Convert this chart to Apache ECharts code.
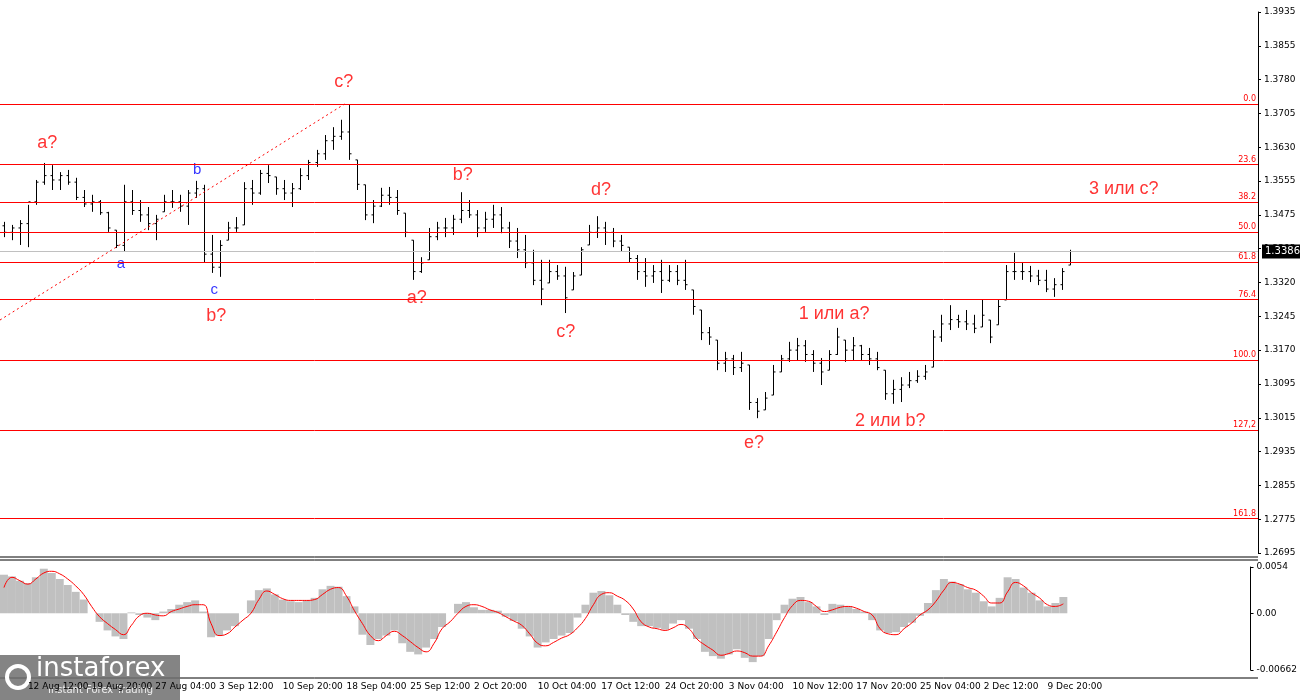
<!DOCTYPE html>
<html><head><meta charset="utf-8">
<script src="https://cdn.jsdelivr.net/npm/echarts@6/dist/echarts.min.js"></script>
<style>html,body{margin:0;padding:0;background:#fff}#c{width:1300px;height:700px}</style>
</head><body><div id="c"></div>
<script>
const highs=[1.3454,1.3447,1.3458,1.3493,1.3550,1.3589,1.3584,1.3568,1.3573,1.3555,1.3527,1.3516,1.3504,1.3477,1.3435,1.3539,1.3527,1.3504,1.3488,1.3470,1.3516,1.3527,1.3516,1.3527,1.3548,1.3539,1.3424,1.3412,1.3454,1.3465,1.3545,1.3550,1.3573,1.3584,1.3557,1.3550,1.3543,1.3577,1.3596,1.3619,1.3653,1.3671,1.3688,1.3722,1.3596,1.3539,1.3504,1.3532,1.3534,1.3527,1.3474,1.3412,1.3373,1.3440,1.3454,1.3463,1.3470,1.3522,1.3504,1.3481,1.3477,1.3493,1.3488,1.3454,1.3440,1.3424,1.3390,1.3367,1.3367,1.3355,1.3351,1.3339,1.3396,1.3447,1.3467,1.3454,1.3440,1.3424,1.3396,1.3378,1.3371,1.3355,1.3367,1.3355,1.3355,1.3367,1.3298,1.3252,1.3213,1.3183,1.3156,1.3149,1.3156,1.3126,1.3050,1.3064,1.3126,1.3149,1.3179,1.3188,1.3183,1.3160,1.3142,1.3160,1.3211,1.3183,1.3190,1.3172,1.3165,1.3156,1.3114,1.3092,1.3098,1.3110,1.3114,1.3126,1.3206,1.3241,1.3263,1.3241,1.3252,1.3241,1.3275,1.3229,1.3275,1.3355,1.3383,1.3362,1.3353,1.3344,1.3344,1.3325,1.3348,1.3390];
const lows=[1.3419,1.3412,1.3401,1.3396,1.3493,1.3539,1.3527,1.3527,1.3539,1.3504,1.3488,1.3477,1.3470,1.3431,1.3394,1.3385,1.3470,1.3454,1.3435,1.3412,1.3477,1.3486,1.3477,1.3447,1.3509,1.3362,1.3337,1.3328,1.3412,1.3431,1.3447,1.3493,1.3516,1.3543,1.3516,1.3504,1.3488,1.3527,1.3550,1.3580,1.3596,1.3619,1.3642,1.3596,1.3527,1.3458,1.3451,1.3488,1.3493,1.3470,1.3419,1.3321,1.3337,1.3367,1.3412,1.3419,1.3424,1.3451,1.3463,1.3419,1.3431,1.3440,1.3428,1.3394,1.3371,1.3348,1.3309,1.3263,1.3314,1.3321,1.3245,1.3298,1.3332,1.3401,1.3417,1.3401,1.3396,1.3385,1.3360,1.3321,1.3305,1.3314,1.3291,1.3316,1.3309,1.3298,1.3241,1.3183,1.3172,1.3114,1.3110,1.3103,1.3110,1.3023,1.3004,1.3023,1.3057,1.3110,1.3133,1.3137,1.3133,1.3110,1.3080,1.3114,1.3149,1.3133,1.3137,1.3137,1.3126,1.3114,1.3046,1.3037,1.3041,1.3073,1.3085,1.3092,1.3121,1.3179,1.3206,1.3211,1.3206,1.3199,1.3213,1.3176,1.3218,1.3275,1.3321,1.3321,1.3316,1.3309,1.3293,1.3282,1.3298,1.3355];
const closes=[1.3430,1.3440,1.3450,1.3500,1.3545,1.3560,1.3550,1.3560,1.3545,1.3510,1.3495,1.3500,1.3475,1.3440,1.3400,1.3500,1.3480,1.3470,1.3450,1.3460,1.3500,1.3500,1.3490,1.3520,1.3530,1.3380,1.3350,1.3400,1.3440,1.3440,1.3530,1.3520,1.3565,1.3560,1.3530,1.3520,1.3530,1.3560,1.3590,1.3610,1.3640,1.3650,1.3660,1.3610,1.3540,1.3470,1.3490,1.3515,1.3510,1.3480,1.3430,1.3340,1.3360,1.3420,1.3440,1.3440,1.3460,1.3480,1.3470,1.3440,1.3460,1.3470,1.3440,1.3410,1.3390,1.3360,1.3320,1.3300,1.3340,1.3330,1.3280,1.3330,1.3390,1.3430,1.3440,1.3430,1.3410,1.3400,1.3370,1.3340,1.3330,1.3340,1.3320,1.3340,1.3320,1.3310,1.3260,1.3200,1.3190,1.3130,1.3140,1.3120,1.3130,1.3040,1.3020,1.3050,1.3110,1.3140,1.3160,1.3170,1.3150,1.3130,1.3110,1.3150,1.3190,1.3160,1.3170,1.3150,1.3140,1.3120,1.3060,1.3070,1.3080,1.3090,1.3100,1.3110,1.3190,1.3220,1.3230,1.3225,1.3220,1.3210,1.3240,1.3190,1.3260,1.3340,1.3340,1.3340,1.3330,1.3320,1.3300,1.3310,1.3340,1.3386];
const firstOpen=1.3445;
const macdHist=[.0045,.0043,.0038,.0035,.0042,.0052,.0047,.0040,.0033,.0025,.0016,.0000,-.0010,-.0020,-.0027,-.0030,.0001,-.0002,-.0005,-.0008,.0002,.0005,.0010,.0013,.0015,.0002,-.0028,-.0026,-.0020,-.0015,.0000,.0015,.0027,.0029,.0022,.0016,.0014,.0013,.0015,.0018,.0028,.0032,.0031,.0020,.0008,-.0025,-.0037,-.0030,-.0026,-.0020,-.0035,-.0045,-.0048,-.0040,-.0030,-.0016,.0000,.0011,.0013,.0007,.0004,.0004,.0003,-.0004,-.0009,-.0018,-.0027,-.0040,-.0034,-.0030,-.0026,-.0023,-.0005,.0010,.0024,.0026,.0021,.0010,-.0002,-.0010,-.0015,-.0015,-.0017,-.0019,-.0012,-.0008,-.0018,-.0030,-.0045,-.0050,-.0053,-.0048,-.0042,-.0052,-.0057,-.0050,-.0030,-.0008,.0010,.0017,.0019,.0013,.0008,-.0002,.0011,.0010,.0008,.0005,.0002,-.0008,-.0020,-.0023,-.0022,-.0016,-.0011,-.0003,.0012,.0027,.0040,.0037,.0034,.0028,.0024,.0014,.0008,.0018,.0042,.0040,.0030,.0024,.0015,.0008,.0012,.0019];
const macdSignal=[.0030,.0042,.0038,.0034,.0040,.0047,.0049,.0046,.0040,.0032,.0022,.0008,-.0004,-.0012,-.0019,-.0025,-.0014,-.0003,.0000,-.0002,-.0003,.0002,.0005,.0008,.0010,.0010,-.0012,-.0026,-.0024,-.0016,-.0008,.0000,.0016,.0026,.0022,.0017,.0015,.0015,.0015,.0016,.0022,.0028,.0030,.0020,.0003,-.0012,-.0026,-.0032,-.0026,-.0021,-.0026,-.0033,-.0040,-.0045,-.0035,-.0018,-.0010,.0000,.0008,.0010,.0008,.0004,.0001,-.0004,-.0009,-.0014,-.0024,-.0035,-.0038,-.0034,-.0029,-.0025,-.0017,-.0006,.0010,.0022,.0024,.0020,.0015,.0005,-.0010,-.0016,-.0018,-.0020,-.0017,-.0013,-.0018,-.0030,-.0037,-.0043,-.0049,-.0047,-.0044,-.0046,-.0050,-.0050,-.0038,-.0022,-.0005,.0009,.0015,.0014,.0008,.0002,.0004,.0007,.0008,.0006,.0002,-.0002,-.0018,-.0024,-.0025,-.0018,-.0011,-.0002,.0004,.0014,.0027,.0036,.0034,.0030,.0027,.0020,.0012,.0012,.0025,.0036,.0032,.0024,.0018,.0010,.0008,.0011];
const timeLabels=["12 Aug 12:00","19 Aug 20:00","27 Aug 04:00","3 Sep 12:00","10 Sep 20:00","18 Sep 04:00","25 Sep 12:00","2 Oct 20:00","10 Oct 04:00","17 Oct 12:00","24 Oct 20:00","3 Nov 04:00","10 Nov 12:00","17 Nov 20:00","25 Nov 04:00","2 Dec 12:00","9 Dec 20:00"];
const priceTicks=["1.2695","1.2775","1.2855","1.2935","1.3015","1.3095","1.3170","1.3245","1.3320","1.3395","1.3475","1.3555","1.3630","1.3705","1.3780","1.3855","1.3935"];
const fibLevels=["0.0","23.6","38.2","50.0","61.8","76.4","100.0","127,2","161.8"];
const fibRatios=[0,0.236,0.382,0.5,0.618,0.764,1,1.272,1.618];
const fibHigh=1.3724, fibLow=1.3137;
const lastPrice=1.3386;
const trendStart=[-0.5,1.3229], trendEnd=[42.5,1.3724];
const waveLabels=[
 {t:"a?",i:5.4,p:1.3635,c:"#f00"},{t:"c?",i:42.4,p:1.3775,c:"#f00"},{t:"b?",i:57.25,p:1.3561,c:"#f00"},
 {t:"d?",i:74.5,p:1.3527,c:"#f00"},{t:"3 или c?",i:139.75,p:1.3529,c:"#f00"},{t:"b?",i:26.5,p:1.3238,c:"#f00"},
 {t:"a?",i:51.5,p:1.3279,c:"#f00"},{t:"c?",i:70.1,p:1.3202,c:"#f00"},{t:"e?",i:93.6,p:1.2947,c:"#f00"},
 {t:"1 или a?",i:103.6,p:1.3243,c:"#f00"},{t:"2 или b?",i:110.6,p:1.2998,c:"#f00"},
 {t:"b",i:24.1,p:1.3573,c:"#00f"},{t:"a",i:14.6,p:1.3357,c:"#00f"},{t:"c",i:26.25,p:1.3298,c:"#00f"}];

const N=157;
const cats=[];for(let i=0;i<N;i++){const k=(i-3)/8;cats.push(i%8===3&&timeLabels[k]?timeLabels[k]:"");}
const ohlc=closes.map((c,i)=>{let o=i===0?firstOpen:closes[i-1];o=Math.min(highs[i],Math.max(lows[i],o));return [i,o,c,lows[i],highs[i]];});
const ff="Tahoma, 'DejaVu Sans', sans-serif";
function renderBar(params,api){
  const x=api.coord([api.value(0),0])[0];
  const yo=api.coord([0,api.value(1)])[1], yc=api.coord([0,api.value(2)])[1];
  const yl=api.coord([0,api.value(3)])[1], yh=api.coord([0,api.value(4)])[1];
  const st={stroke:'#000',lineWidth:1};
  const X=Math.round(x)+0.5;
  return {type:'group',children:[
    {type:'line',shape:{x1:X,y1:yh,x2:X,y2:yl},style:st},
    {type:'line',shape:{x1:X-2,y1:yo,x2:X,y2:yo},style:st},
    {type:'line',shape:{x1:X,y1:yc,x2:X+2,y2:yc},style:st}]};
}
const chart=echarts.init(document.getElementById('c'));
chart.setOption({
 animation:false,
 grid:[{left:0,top:12,width:1258,height:541},{left:0,top:567,width:1258,height:103}],
 xAxis:[
  {type:'category',gridIndex:0,data:cats,boundaryGap:true,axisLine:{show:false},axisTick:{show:false},axisLabel:{show:false}},
  {type:'category',gridIndex:1,data:cats,boundaryGap:true,position:'bottom',offset:8,axisLine:{show:false},
   axisTick:{show:false},
   axisLabel:{interval:(i,v)=>v!=="",color:'#000',fontSize:9,fontFamily:ff,align:'left',margin:4}},
  {type:'value',gridIndex:0,min:-0.5,max:N-0.5,show:false}
 ],
 yAxis:[
  {type:'value',gridIndex:0,position:'right',min:1.2695,max:1.3935,interval:0.00775,scale:true,
   axisLine:{show:true,onZero:false,lineStyle:{color:'#000'}},axisTick:{show:true,length:3,lineStyle:{color:'#000'}},splitLine:{show:false},
   axisLabel:{formatter:(v,idx)=>priceTicks[idx]??'',color:'#000',fontSize:9,fontFamily:ff,margin:6}},
  {type:'value',gridIndex:1,position:'right',min:-0.00662,max:0.0054,interval:0.00662,
   axisLine:{show:true,onZero:false,lineStyle:{color:'#000'}},axisTick:{show:true,length:3,lineStyle:{color:'#000'}},splitLine:{show:false},
   axisLabel:{showMaxLabel:true,formatter:(v)=>v>0.005?'0.0054':(v<-0.006?'-0.00662':'0.00'),color:'#000',fontSize:9,fontFamily:ff,margin:6}}
 ],
 series:[
  {type:'custom',xAxisIndex:0,yAxisIndex:0,data:ohlc,renderItem:renderBar,encode:{x:0,y:[1,2,3,4]},silent:true,
   markLine:{silent:true,symbol:'none',precision:5,animation:false,data:[
     ...fibLevels.map((l,k)=>({yAxis:fibHigh-(fibHigh-fibLow)*fibRatios[k],lineStyle:{color:'#f00',width:1,type:'solid'},
       label:{show:true,position:'insideEndTop',formatter:l,color:'#f00',fontSize:8,fontFamily:ff,distance:[2,1]}})),
     {yAxis:lastPrice,lineStyle:{color:'#c0c0c0',width:1,type:'solid'},
       label:{show:true,position:'end',formatter:lastPrice.toFixed(4),color:'#fff',backgroundColor:'#000',fontSize:10,fontFamily:ff,padding:[2,3],distance:4}}
   ]}},
  {type:'line',xAxisIndex:2,yAxisIndex:0,data:[trendStart,trendEnd],showSymbol:false,symbol:'none',
   lineStyle:{color:'#f00',width:1,type:[2,3]},silent:true},
  {type:'scatter',xAxisIndex:2,yAxisIndex:0,symbolSize:0,data:waveLabels.map(w=>({value:[w.i,w.p],label:{show:true,position:'inside',formatter:w.t,color:w.c,fontSize:w.c==='#00f'?15:18,fontFamily:"Arial, 'Liberation Sans', sans-serif"}})),silent:true},
  {type:'bar',xAxisIndex:1,yAxisIndex:1,data:macdHist,barCategoryGap:'0%',itemStyle:{color:'#c0c0c0'},silent:true},
  {type:'line',xAxisIndex:1,yAxisIndex:1,data:macdSignal,smooth:true,showSymbol:false,lineStyle:{color:'#f00',width:1},silent:true}
 ],
 graphic:[
  {type:'line',shape:{x1:0,y1:557,x2:1258,y2:557},style:{stroke:'#000',lineWidth:1}},
  {type:'line',shape:{x1:0,y1:560,x2:1258,y2:560},style:{stroke:'#000',lineWidth:1}},
  {type:'line',shape:{x1:0,y1:678,x2:1258,y2:678},style:{stroke:'#000',lineWidth:1}},
  {type:'rect',shape:{x:0,y:655,width:180,height:45},style:{fill:'rgba(110,110,110,0.85)'}},
  {type:'text',left:36,top:656,style:{text:'instaforex',fill:'#fff',font:"26px 'DejaVu Sans', sans-serif"}},
  {type:'text',left:48,top:685,style:{text:'Instant Forex Trading',fill:'#eee',font:"10px 'DejaVu Sans', sans-serif"}},
  {type:'circle',shape:{cx:18,cy:677,r:11},style:{fill:'none',stroke:'#fff',lineWidth:4}}
 ]
});
</script></body></html>
